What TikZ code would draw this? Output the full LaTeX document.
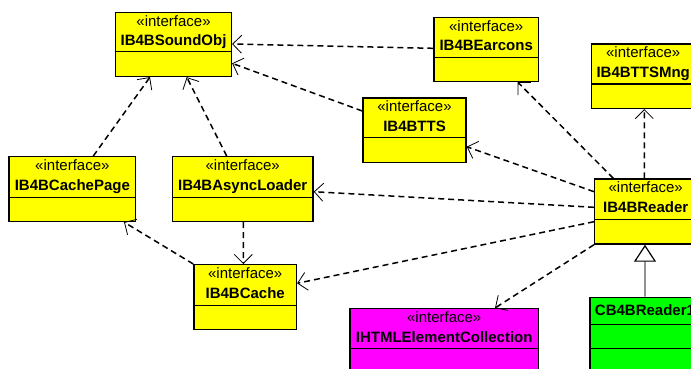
\documentclass[tikz,border=0pt]{standalone}
\usepackage{fontspec}
\setmainfont{Liberation Sans}
\usetikzlibrary{arrows.meta}

\definecolor{ifyellow}{RGB}{255,255,0}
\definecolor{ifmagenta}{RGB}{255,0,255}
\definecolor{clgreen}{RGB}{0,255,0}

\tikzset{
  clsbox/.style={draw=black, line width=1.4bp, rectangle, inner sep=0pt, anchor=north west},
  clsline/.style={draw=black, line width=1.4bp},
  stereo/.style={font=\fontsize{15bp}{17bp}\selectfont, anchor=base, inner sep=0pt},
  cname/.style={font=\fontsize{15bp}{17bp}\selectfont\bfseries, anchor=base, inner sep=0pt},
  dep/.style={draw=black, line width=1.5bp, dash pattern=on 6bp off 4bp,
    -{Straight Barb[length=9bp, width=18bp, line width=0.8bp]}},
  realize/.style={draw=black!65, line width=1.3bp,
    -{Triangle[open, length=17bp, width=22bp, line width=1.2bp, color=black]}}
}

% #1 name, #2 x, #3 y, #4 width, #5 height, #6 header height, #7 fill, #8 class name
\newcommand\ifacebox[8]{%
  \node[clsbox, fill=#7, minimum width=#4bp, minimum height=#5bp] (#1) at (#2,#3) {};
  \draw[clsline] ([yshift=-#6bp]#1.north west) -- ([yshift=-#6bp]#1.north east);
  \node[stereo] at ([yshift=-14.5bp]#1.north) {«interface»};
  \node[cname] at ([yshift=-34bp]#1.north) {#8};
}

\begin{document}
\begin{tikzpicture}[x=1bp, y=-1bp]
\useasboundingbox (0,0) rectangle (691,368);
\clip (0,0) rectangle (691,368);

% interfaces
\ifacebox{sound}{115}{11.7}{115.7}{64}{40}{ifyellow}{IB4BSoundObj}
\ifacebox{earcons}{433.3}{16.7}{104.4}{64}{40.6}{ifyellow}{IB4BEarcons}
\ifacebox{ttsmng}{591}{43.3}{103}{64.4}{40.7}{ifyellow}{IB4BTTSMng}
\ifacebox{cachepage}{8.3}{156}{126.7}{64.7}{41.3}{ifyellow}{IB4BCachePage}
\ifacebox{async}{171.7}{156}{140.6}{64.7}{41.3}{ifyellow}{IB4BAsyncLoader}
\ifacebox{tts}{362.3}{97.3}{103}{64.4}{40.4}{ifyellow}{IB4BTTS}
\ifacebox{reader}{594}{178.3}{102}{65}{41}{ifyellow}{IB4BReader}
\ifacebox{cache}{193.3}{264}{102.4}{65}{41.7}{ifyellow}{IB4BCache}
\ifacebox{ihtml}{349.3}{308}{188.4}{80}{40.3}{ifmagenta}{IHTMLElementCollection}

% implementing class
\node[clsbox, fill=clgreen, minimum width=110bp, minimum height=100bp] (cb4) at (589.3,296.7) {};
\draw[clsline] ([yshift=-27.6bp]cb4.north west) -- ([yshift=-27.6bp]cb4.north east);
\draw[clsline] ([yshift=-51.6bp]cb4.north west) -- ([yshift=-51.6bp]cb4.north east);
\node[cname] at ([yshift=-18.8bp]cb4.north) {CB4BReader1};

% dependencies
\draw[dep] ([xshift=85bp]cachepage.north west) -- ([xshift=35bp]sound.south west);
\draw[dep] ([xshift=55bp]async.north west) -- ([xshift=71.7bp]sound.south west);
\draw[dep] ([yshift=-31.6bp]earcons.north west) -- ([yshift=-32.3bp]sound.north east);
\draw[dep] ([yshift=-13.7bp]tts.north west) -- ([yshift=-51.6bp]sound.north east);
\draw[dep] ([xshift=19.3bp]reader.north west) -- ([xshift=84.4bp]earcons.south west);
\draw[dep] ([xshift=50.3bp]reader.north west) -- ([xshift=53.3bp]ttsmng.south west);
\draw[dep] ([yshift=-13.4bp]reader.north west) -- ([yshift=-49.4bp]tts.north east);
\draw[dep] ([yshift=-29bp]reader.north west) -- ([yshift=-35.7bp]async.north east);
\draw[dep] ([yshift=-43.4bp]reader.north west) -- ([yshift=-19.3bp]cache.north east);
\draw[dep] (reader.south west) -- ([xshift=145.7bp]ihtml.north west);
\draw[dep] ([xshift=71.6bp]async.south west) -- ([xshift=50bp]cache.north west);
\draw[dep] (cache.north west) -- ([xshift=115.7bp]cachepage.south west);

% realization
\draw[realize] ([xshift=55.7bp]cb4.north west) -- ([xshift=51bp]reader.south west);
\end{tikzpicture}
\end{document}
